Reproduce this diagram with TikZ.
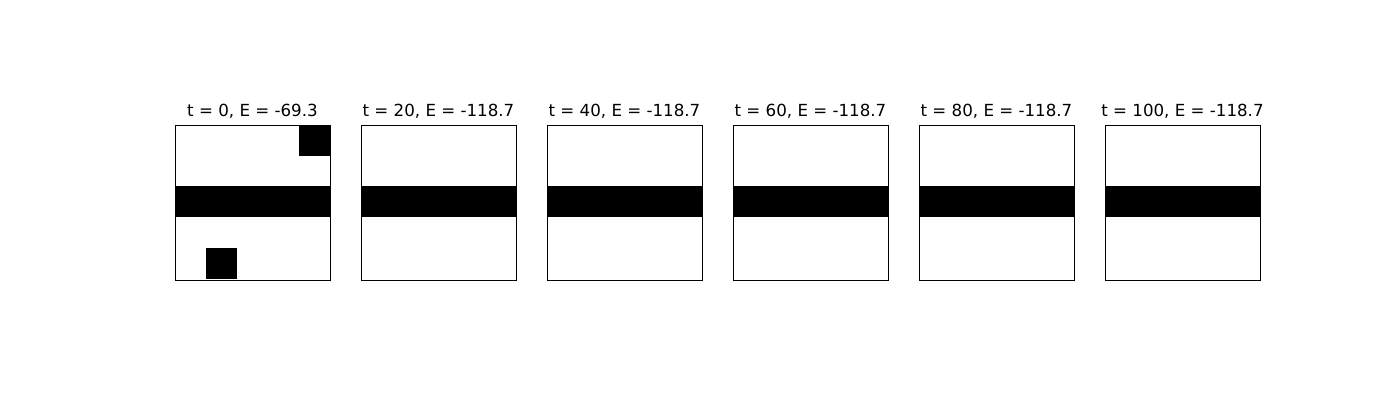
\documentclass[tikz,border=0pt]{standalone}
\usepackage{fontspec}
\setmainfont{DejaVu Sans}
\begin{document}
\begin{tikzpicture}[x=0.72pt,y=-0.72pt,
  frame/.style={draw=black,line width=0.6pt},
  cell/.style={fill=black},
  ttl/.style={anchor=base,font=\fontsize{12}{14}\selectfont,inner sep=0pt}]
\useasboundingbox[fill=white] (0,0) rectangle (1400,400);
\foreach \i/\t/\e in {0/0/-69.3,1/20/-118.7,2/40/-118.7,3/60/-118.7,4/80/-118.7,5/100/-118.7}{
  \pgfmathsetmacro{\xo}{175+186*\i}
  \fill[cell] (\xo,186) rectangle ++(155,31);
  \node[ttl] (title\i) at (\xo+77.5,117) {t = \t, E = \e};
  \draw[frame] (\xo,125) rectangle ++(155,155);
}
\fill[cell] (299,125) rectangle ++(31,31);
\fill[cell] (206,248) rectangle ++(31,31);
\draw[frame] (175,125) rectangle ++(155,155);
\end{tikzpicture}
\end{document}
